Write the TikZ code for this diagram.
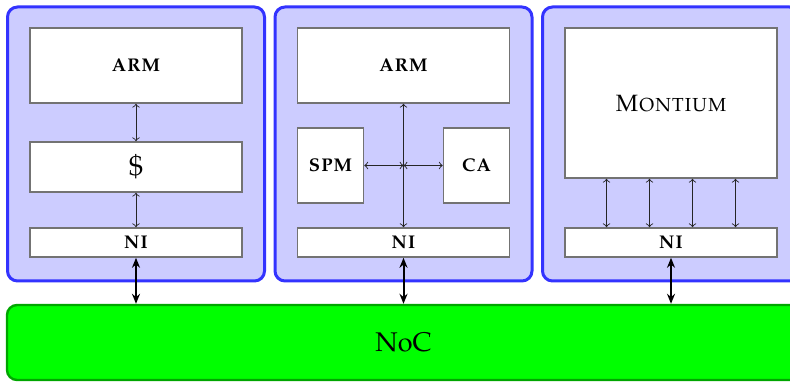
\documentclass[tikz,border=0pt]{standalone}
\usepackage[T1]{fontenc}
\usepackage{mathpazo}
\usetikzlibrary{arrows.meta}

\tikzset{
	tile/.style={draw=blue!80, fill=blue!20, line width=1.5pt, rounded corners=5pt,
		minimum width=128.5pt, minimum height=137pt, inner sep=0pt},
	unit/.style={draw=black!55, fill=white, line width=0.8pt, minimum width=106pt,
		inner sep=0pt, font=\fontsize{11.5}{13}\selectfont},
	link/.style={<->, >=to, line width=0.45pt, black!85},
	bus/.style={{Stealth[length=5pt,width=4pt]}-{Stealth[length=5pt,width=4pt]}, line width=1pt},
}

\begin{document}
\begin{tikzpicture}[x=0.5pt,y=-0.5pt]
		\useasboundingbox (0,0) rectangle (790,383);
		% tiles with network interfaces
		\foreach \i/\x in {1/136,2/403.5,3/671}
		{
			\node[tile] (t\i) at (\x,144) {};
			\node[unit, minimum height=14.5pt] (ni\i) at (\x,242.5) {\textbf{\textsc{ni}}};
		}
		\node[draw=green!65!black, fill=green, line width=1.2pt, rounded corners=5pt,
			minimum width=396.5pt, minimum height=37.5pt, inner sep=0pt,
			font=\fontsize{13.5}{16}\selectfont] (noc) at (403.5,342.5) {NoC};
		\foreach \i in {1,2,3}
		{
			\draw[bus] (ni\i.south) -- (ni\i.south |- noc.north);
		}
		% ARM with cache
		\node[unit, minimum height=37.5pt] (arm1) at (136,65.5) {\textbf{\textsc{arm}}};
		\node[unit, minimum height=25pt] (cache) at (136,167) {\Large\$};
		\draw[link] (arm1.south) -- (cache.north);
		\draw[link] (cache.south) -- (ni1.north);
		% ARM with SPM and CA
		\node[unit, minimum height=37.5pt] (arm2) at (403.5,65.5) {\textbf{\textsc{arm}}};
		\node[unit, minimum width=33pt, minimum height=37.5pt] (spm) at (330.5,165.5) {\textbf{\textsc{spm}}};
		\node[unit, minimum width=33pt, minimum height=37.5pt] (ca) at (476.5,165.5) {\textbf{\textsc{ca}}};
		\coordinate (hub) at (403.5,165.5);
		\draw[link] (arm2.south) -- (ni2.north);
		\draw[link] (spm.east) -- (hub);
		\draw[link] (hub) -- (ca.west);
		% Montium
		\node[unit, minimum height=75pt, font=\fontsize{11.8}{14}\selectfont] (mont) at (671,103) {\textsc{Montium}};
		\foreach \d in {-32.25,-10.75,10.75,32.25}
		{
			\draw[link] ([xshift=\d pt]mont.south) -- ([xshift=\d pt]ni3.north);
		}
\end{tikzpicture}
\end{document}
